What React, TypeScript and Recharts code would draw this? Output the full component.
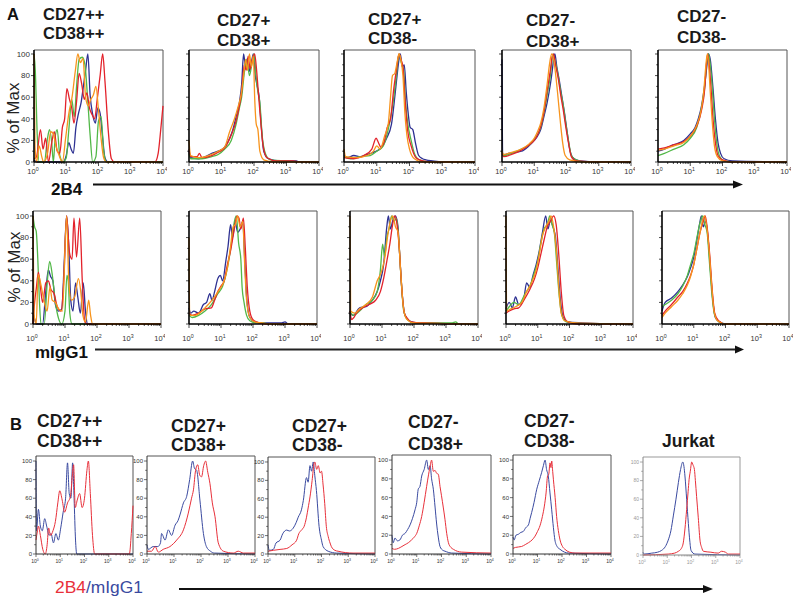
import React from 'react';
import { LineChart, Line, XAxis, YAxis, ReferenceLine } from 'recharts';

type Pt = [number, number];

// ---------- Row A1 : 2B4 (x = log10 intensity, y = % of max) ----------
const a1p1Blue: Pt[] = [[0,2],[0.1,0],[0.9,0],[1.0,6],[1.08,18],[1.15,12],[1.22,8],[1.3,32],[1.38,45],[1.46,55],[1.54,72],[1.6,85],[1.67,100],[1.74,62],[1.82,44],[1.9,36],[1.98,50],[2.05,45],[2.12,25],[2.2,4],[2.3,0],[4,0]];
const a1p1Green: Pt[] = [[0,100],[0.04,85],[0.1,25],[0.16,0],[0.32,0],[0.42,22],[0.48,30],[0.55,18],[0.6,0],[0.66,24],[0.72,30],[0.8,6],[0.9,0],[1.0,4],[1.08,30],[1.17,58],[1.25,42],[1.32,70],[1.4,95],[1.5,97],[1.58,90],[1.66,60],[1.74,25],[1.82,0],[1.92,5],[2.0,38],[2.08,42],[2.16,10],[2.25,0],[4,0]];
const a1p1Red: Pt[] = [[0,3],[0.08,5],[0.2,30],[0.28,12],[0.36,22],[0.45,0],[0.55,18],[0.63,28],[0.72,10],[0.8,8],[0.88,32],[0.95,40],[1.02,68],[1.1,58],[1.17,50],[1.24,36],[1.32,56],[1.4,82],[1.48,72],[1.56,58],[1.64,64],[1.72,50],[1.8,44],[1.88,40],[1.96,58],[2.05,80],[2.13,100],[2.2,75],[2.3,30],[2.4,3],[2.5,0],[3.75,0],[3.85,8],[3.93,30],[4,52]];
const a1p1Orange: Pt[] = [[0,100],[0.03,15],[0.08,0],[0.16,15],[0.24,5],[0.3,0],[0.42,8],[0.52,28],[0.6,26],[0.68,15],[0.78,6],[0.88,0],[0.98,22],[1.08,45],[1.18,60],[1.28,84],[1.36,100],[1.44,92],[1.52,96],[1.6,60],[1.68,52],[1.76,58],[1.84,62],[1.92,70],[2.0,48],[2.08,22],[2.16,4],[2.25,0],[4,0]];

const a1p2Blue: Pt[] = [[0,10],[0.05,4],[0.3,3],[0.5,5],[0.7,8],[0.9,10],[1.1,14],[1.25,22],[1.35,30],[1.45,42],[1.55,55],[1.62,72],[1.68,100],[1.74,88],[1.8,96],[1.86,84],[1.92,92],[1.98,100],[2.04,80],[2.1,70],[2.16,60],[2.22,35],[2.3,10],[2.45,3],[2.8,1],[3.3,1],[3.4,0],[4,0]];
const a1p2Green: Pt[] = [[0,8],[0.05,3],[0.4,3],[0.7,5],[0.9,7],[1.1,12],[1.3,20],[1.45,35],[1.55,50],[1.62,60],[1.7,82],[1.78,95],[1.86,80],[1.94,92],[2.0,100],[2.06,80],[2.12,65],[2.18,55],[2.25,25],[2.35,8],[2.5,2],[3.0,1],[3.5,0],[4,0]];
const a1p2Red: Pt[] = [[0,12],[0.05,5],[0.25,5],[0.32,8],[0.4,4],[0.7,6],[0.9,9],[1.1,13],[1.3,25],[1.45,38],[1.55,52],[1.62,65],[1.7,90],[1.76,85],[1.82,98],[1.88,86],[1.95,95],[2.02,100],[2.08,85],[2.14,62],[2.2,40],[2.28,15],[2.4,4],[2.7,1],[3.2,1],[3.4,0],[4,0]];
const a1p2Orange: Pt[] = [[0,20],[0.05,6],[0.3,4],[0.6,6],[0.9,10],[1.1,14],[1.25,28],[1.4,40],[1.5,50],[1.6,62],[1.68,80],[1.74,95],[1.8,85],[1.86,100],[1.92,88],[1.98,98],[2.02,60],[2.07,35],[2.12,30],[2.18,10],[2.3,2],[2.6,0],[4,0]];

const a1p3Blue: Pt[] = [[0,6],[0.1,4],[0.3,6],[0.5,5],[0.7,7],[0.9,9],[1.1,12],[1.3,22],[1.45,35],[1.55,60],[1.62,80],[1.68,95],[1.72,100],[1.78,88],[1.84,90],[1.9,65],[1.96,45],[2.02,32],[2.1,30],[2.18,18],[2.28,6],[2.4,3],[2.5,2],[2.7,1],[3.0,0],[4,0]];
const a1p3Green: Pt[] = [[0,5],[0.2,3],[0.5,5],[0.8,6],[1.0,10],[1.2,15],[1.35,30],[1.5,55],[1.6,80],[1.68,100],[1.75,92],[1.82,85],[1.88,55],[1.95,35],[2.05,20],[2.15,8],[2.3,2],[2.6,0],[4,0]];
const a1p3Red: Pt[] = [[0,4],[0.3,3],[0.6,6],[0.85,12],[0.98,22],[1.05,18],[1.12,14],[1.22,18],[1.32,32],[1.42,40],[1.52,68],[1.6,85],[1.68,100],[1.74,95],[1.8,88],[1.86,60],[1.94,30],[2.05,15],[2.2,4],[2.4,1],[2.7,0],[4,0]];
const a1p3Orange: Pt[] = [[0,12],[0.05,5],[0.4,4],[0.7,6],[0.9,10],[1.0,15],[1.1,12],[1.25,25],[1.35,35],[1.42,60],[1.48,80],[1.55,82],[1.62,92],[1.68,100],[1.74,94],[1.8,80],[1.86,45],[1.92,25],[2.0,12],[2.15,3],[2.4,0],[4,0]];

const a1p4Blue: Pt[] = [[0,95],[0.02,6],[0.2,8],[0.4,9],[0.6,10],[0.8,14],[1.0,20],[1.1,24],[1.2,30],[1.3,42],[1.4,55],[1.5,72],[1.56,85],[1.6,95],[1.64,100],[1.7,88],[1.78,75],[1.86,60],[1.94,45],[2.02,28],[2.1,12],[2.2,4],[2.4,1],[3.0,0],[4,0]];
const a1p4Green: Pt[] = [[0,10],[0.05,6],[0.3,8],[0.6,12],[0.85,16],[1.0,21],[1.2,32],[1.3,45],[1.4,62],[1.5,80],[1.58,100],[1.66,92],[1.74,80],[1.82,65],[1.9,52],[1.98,35],[2.06,20],[2.15,6],[2.3,2],[2.6,0],[4,0]];
const a1p4Red: Pt[] = [[0,8],[0.05,5],[0.3,7],[0.6,11],[0.85,16],[1.0,20],[1.1,25],[1.2,33],[1.3,46],[1.4,66],[1.5,85],[1.56,98],[1.6,100],[1.66,90],[1.74,78],[1.82,62],[1.9,48],[1.98,32],[2.06,18],[2.15,5],[2.3,1],[3.0,0],[4,0]];
const a1p4Orange: Pt[] = [[0,10],[0.05,7],[0.3,9],[0.6,12],[0.85,17],[1.0,22],[1.1,28],[1.2,36],[1.3,50],[1.4,72],[1.48,92],[1.54,100],[1.6,95],[1.66,82],[1.72,65],[1.8,40],[1.88,18],[1.96,6],[2.1,2],[2.5,0],[4,0]];

const a1p5Blue: Pt[] = [[0,10],[0.2,12],[0.4,15],[0.6,17],[0.8,20],[1.0,26],[1.15,32],[1.25,40],[1.35,52],[1.45,72],[1.52,90],[1.56,100],[1.62,95],[1.7,70],[1.78,40],[1.86,18],[1.94,8],[2.05,3],[2.3,1],[4,0]];
const a1p5Green: Pt[] = [[0,6],[0.2,8],[0.5,12],[0.8,16],[1.0,22],[1.2,32],[1.35,50],[1.45,70],[1.52,95],[1.57,100],[1.62,90],[1.68,70],[1.75,40],[1.82,18],[1.9,6],[2.05,1],[2.4,0],[4,0]];
const a1p5Red: Pt[] = [[0,12],[0.2,13],[0.5,16],[0.8,19],[1.0,24],[1.2,33],[1.35,48],[1.45,68],[1.5,90],[1.54,100],[1.58,92],[1.64,70],[1.7,42],[1.78,18],[1.86,6],[2.0,2],[2.3,0],[4,0]];
const a1p5Orange: Pt[] = [[0,11],[0.2,12],[0.5,15],[0.8,18],[1.0,24],[1.2,34],[1.35,50],[1.42,66],[1.48,88],[1.53,100],[1.57,90],[1.62,65],[1.68,38],[1.75,15],[1.84,5],[2.0,1],[2.3,0],[4,0]];

// ---------- Row A2 : mIgG1 ----------
const a2p1Blue: Pt[] = [[0,10],[0.05,5],[0.1,0],[0.3,0],[0.4,30],[0.48,50],[0.55,44],[0.62,40],[0.7,18],[0.8,12],[0.9,14],[0.98,60],[1.05,100],[1.12,70],[1.18,22],[1.25,12],[1.33,38],[1.4,25],[1.48,10],[1.57,38],[1.64,12],[1.7,0],[4,0]];
const a2p1Green: Pt[] = [[0,100],[0.05,90],[0.1,86],[0.15,60],[0.2,22],[0.25,0],[0.35,0],[0.45,40],[0.52,58],[0.6,46],[0.7,20],[0.8,5],[0.9,0],[1.0,12],[1.06,45],[1.1,40],[1.15,10],[1.22,0],[4,0]];
const a2p1Red: Pt[] = [[0,0],[0.05,20],[0.1,32],[0.17,48],[0.24,32],[0.3,20],[0.4,38],[0.48,40],[0.56,32],[0.66,28],[0.76,16],[0.88,12],[0.96,40],[1.05,100],[1.14,66],[1.22,60],[1.28,98],[1.36,62],[1.46,98],[1.54,40],[1.62,2],[1.7,0],[4,0]];
const a2p1Orange: Pt[] = [[0,100],[0.03,10],[0.1,0],[0.16,46],[0.25,36],[0.34,22],[0.44,12],[0.53,34],[0.6,22],[0.7,20],[0.8,14],[0.92,12],[1.05,100],[1.12,38],[1.2,22],[1.3,25],[1.42,42],[1.5,28],[1.56,8],[1.64,2],[1.74,22],[1.8,8],[1.86,0],[4,0]];

const a2p2Blue: Pt[] = [[0,15],[0.05,10],[0.15,12],[0.3,10],[0.45,18],[0.55,20],[0.65,28],[0.72,22],[0.8,30],[0.9,42],[0.98,45],[1.05,40],[1.15,58],[1.22,72],[1.3,92],[1.36,80],[1.44,95],[1.52,85],[1.6,88],[1.68,95],[1.74,60],[1.8,25],[1.9,6],[2.05,2],[2.3,1],[2.9,1],[3.0,2],[3.1,0],[4,0]];
const a2p2Green: Pt[] = [[0,8],[0.1,6],[0.3,8],[0.5,12],[0.7,18],[0.9,28],[1.05,35],[1.15,45],[1.25,60],[1.35,80],[1.42,95],[1.48,100],[1.55,75],[1.62,60],[1.66,34],[1.72,20],[1.8,8],[1.9,3],[2.1,1],[2.3,1],[2.5,0],[4,0]];
const a2p2Red: Pt[] = [[0,10],[0.1,8],[0.3,10],[0.5,14],[0.7,15],[0.8,22],[0.9,30],[1.0,35],[1.1,40],[1.2,55],[1.3,68],[1.4,85],[1.5,100],[1.56,98],[1.62,88],[1.7,98],[1.76,70],[1.82,35],[1.9,12],[2.0,4],[2.2,1],[2.4,0],[4,0]];
const a2p2Orange: Pt[] = [[0,80],[0.02,8],[0.2,8],[0.4,12],[0.6,18],[0.8,25],[0.95,32],[1.1,40],[1.2,52],[1.3,72],[1.38,90],[1.45,92],[1.52,100],[1.6,90],[1.68,95],[1.74,55],[1.8,22],[1.9,6],[2.05,2],[2.3,1],[2.5,0],[4,0]];

const a2p3Blue: Pt[] = [[0,10],[0.1,8],[0.3,15],[0.5,16],[0.7,22],[0.85,30],[0.95,40],[1.05,55],[1.15,90],[1.2,100],[1.26,88],[1.34,96],[1.42,100],[1.5,90],[1.56,60],[1.64,25],[1.72,8],[1.85,3],[2.1,1],[2.5,1],[3.0,0],[4,0]];
const a2p3Green: Pt[] = [[0,12],[0.1,8],[0.3,12],[0.5,18],[0.7,22],[0.85,30],[0.95,50],[1.02,74],[1.08,62],[1.15,80],[1.22,88],[1.3,100],[1.38,95],[1.45,98],[1.52,80],[1.6,40],[1.68,12],[1.8,4],[2.0,1],[3.2,1],[3.3,2],[3.4,0],[4,0]];
const a2p3Red: Pt[] = [[0,12],[0.05,4],[0.12,6],[0.2,10],[0.4,15],[0.6,18],[0.8,22],[0.95,30],[1.05,42],[1.15,58],[1.25,75],[1.32,90],[1.4,100],[1.47,92],[1.54,70],[1.62,32],[1.7,10],[1.8,5],[1.9,2],[2.3,1],[4,0]];
const a2p3Orange: Pt[] = [[0,100],[0.02,12],[0.15,10],[0.3,14],[0.5,18],[0.7,25],[0.85,40],[0.98,48],[1.08,60],[1.18,82],[1.26,95],[1.34,100],[1.42,90],[1.5,85],[1.58,50],[1.66,18],[1.76,5],[2.0,1],[4,0]];

const a2p4Blue: Pt[] = [[0,14],[0.1,20],[0.2,15],[0.3,25],[0.4,18],[0.55,22],[0.65,38],[0.75,34],[0.85,45],[0.95,55],[1.05,68],[1.15,85],[1.25,100],[1.32,88],[1.4,96],[1.48,90],[1.56,80],[1.64,50],[1.72,20],[1.8,6],[1.95,2],[2.4,1],[3.5,0],[4,0]];
const a2p4Green: Pt[] = [[0,12],[0.1,16],[0.25,20],[0.4,18],[0.6,28],[0.75,35],[0.9,48],[1.0,58],[1.1,75],[1.2,88],[1.3,92],[1.38,100],[1.45,92],[1.52,85],[1.6,55],[1.68,25],[1.76,8],[1.9,2],[2.5,0],[4,0]];
const a2p4Red: Pt[] = [[0,10],[0.1,12],[0.25,14],[0.4,15],[0.6,24],[0.75,32],[0.9,42],[1.0,52],[1.1,65],[1.2,78],[1.3,90],[1.4,95],[1.5,100],[1.58,92],[1.66,65],[1.74,30],[1.82,8],[1.95,2],[2.3,0],[4,0]];
const a2p4Orange: Pt[] = [[0,100],[0.02,12],[0.15,14],[0.3,16],[0.5,20],[0.65,30],[0.8,38],[0.95,50],[1.05,65],[1.15,82],[1.25,90],[1.35,95],[1.42,100],[1.5,90],[1.58,70],[1.66,35],[1.74,10],[1.85,3],[2.2,1],[4,0]];

const a2p5Blue: Pt[] = [[0,12],[0.1,20],[0.3,24],[0.5,30],[0.65,36],[0.8,44],[0.9,52],[1.0,62],[1.1,78],[1.18,92],[1.24,100],[1.3,90],[1.38,95],[1.45,80],[1.52,52],[1.6,22],[1.68,6],[1.8,2],[2.0,0],[4,0]];
const a2p5Green: Pt[] = [[0,16],[0.1,18],[0.3,22],[0.5,28],[0.65,35],[0.8,45],[0.9,55],[1.0,65],[1.1,80],[1.2,94],[1.28,100],[1.35,92],[1.42,85],[1.5,55],[1.58,25],[1.66,8],[1.8,2],[2.0,0],[4,0]];
const a2p5Red: Pt[] = [[0,8],[0.1,12],[0.3,18],[0.5,25],[0.65,30],[0.8,38],[0.9,45],[1.0,55],[1.1,70],[1.2,85],[1.3,95],[1.36,100],[1.42,90],[1.5,65],[1.58,32],[1.66,10],[1.78,3],[2.0,0],[4,0]];
const a2p5Orange: Pt[] = [[0,6],[0.1,10],[0.3,16],[0.5,22],[0.65,28],[0.8,36],[0.9,44],[1.0,55],[1.1,70],[1.2,85],[1.28,96],[1.34,100],[1.4,92],[1.48,70],[1.56,38],[1.64,12],[1.75,3],[2.0,0],[4,0]];

// ---------- Row B : 2B4 (red) vs mIgG1 (blue) ----------
const b1Blue: Pt[] = [[0,100],[0.02,25],[0.1,48],[0.18,30],[0.26,25],[0.36,38],[0.44,30],[0.54,20],[0.62,22],[0.72,12],[0.82,22],[0.92,15],[1.02,28],[1.12,45],[1.22,60],[1.3,98],[1.37,65],[1.44,60],[1.51,98],[1.57,60],[1.63,15],[1.68,0],[4,0]];
const b1Red: Pt[] = [[0,15],[0.06,25],[0.1,30],[0.18,20],[0.28,5],[0.38,0],[0.46,10],[0.52,28],[0.6,20],[0.7,25],[0.8,35],[0.9,55],[0.98,68],[1.08,58],[1.18,45],[1.3,55],[1.42,62],[1.5,85],[1.55,96],[1.62,50],[1.7,58],[1.8,65],[1.9,50],[2.0,60],[2.1,90],[2.16,100],[2.24,65],[2.33,20],[2.42,0],[3.85,0],[3.93,22],[4,52]];
const b2Blue: Pt[] = [[0,10],[0.05,5],[0.23,8],[0.4,8],[0.5,12],[0.54,22],[0.67,15],[0.79,26],[0.91,20],[1.04,31],[1.15,36],[1.22,42],[1.35,55],[1.47,62],[1.58,80],[1.69,100],[1.76,92],[1.84,90],[1.96,58],[2.09,22],[2.2,8],[2.35,3],[2.5,1],[4,0]];
const b2Red: Pt[] = [[0,3],[0.17,3],[0.3,8],[0.42,2],[0.6,5],[0.85,8],[1.1,15],[1.35,26],[1.53,44],[1.65,60],[1.72,69],[1.8,90],[1.88,96],[1.95,85],[2.02,83],[2.1,95],[2.17,100],[2.25,88],[2.33,76],[2.42,55],[2.52,40],[2.64,12],[2.83,3],[3.2,1],[3.38,3],[3.57,1],[4,1]];
const b3Blue: Pt[] = [[0,10],[0.05,4],[0.2,5],[0.3,12],[0.45,15],[0.55,22],[0.7,26],[0.8,25],[0.94,28],[1.05,34],[1.13,40],[1.25,48],[1.32,58],[1.44,83],[1.5,78],[1.57,96],[1.63,90],[1.69,100],[1.75,85],[1.81,69],[1.91,30],[2.0,15],[2.06,8],[2.25,3],[2.56,1],[4,0]];
const b3Red: Pt[] = [[0,3],[0.2,4],[0.45,5],[0.7,6],[0.9,10],[1.07,15],[1.15,22],[1.25,26],[1.35,30],[1.44,40],[1.5,50],[1.57,62],[1.65,80],[1.72,98],[1.75,100],[1.82,92],[1.88,96],[1.95,88],[2.0,90],[2.06,75],[2.12,55],[2.18,30],[2.25,19],[2.32,12],[2.37,8],[2.5,4],[2.62,3],[3.18,1],[4,1]];
const b4Blue: Pt[] = [[0,20],[0.05,12],[0.12,17],[0.22,14],[0.32,15],[0.42,20],[0.53,22],[0.63,26],[0.73,31],[0.83,38],[0.93,47],[1.0,55],[1.06,69],[1.13,72],[1.2,83],[1.3,90],[1.4,100],[1.47,90],[1.54,94],[1.6,80],[1.67,69],[1.74,50],[1.8,33],[1.87,18],[1.94,8],[2.05,4],[2.14,3],[2.41,1],[4,0]];
const b4Red: Pt[] = [[0,6],[0.1,5],[0.26,6],[0.4,8],[0.53,10],[0.66,12],[0.79,15],[0.9,18],[1.0,22],[1.1,30],[1.2,40],[1.3,55],[1.4,72],[1.48,85],[1.55,95],[1.6,100],[1.67,88],[1.74,89],[1.8,86],[1.87,85],[1.94,72],[2.0,62],[2.07,50],[2.14,37],[2.21,22],[2.28,12],[2.38,7],[2.48,5],[2.81,2],[4,1]];
const b5Blue: Pt[] = [[0,18],[0.05,15],[0.12,20],[0.22,21],[0.32,23],[0.42,24],[0.52,28],[0.63,31],[0.7,38],[0.76,44],[0.86,55],[0.97,69],[1.07,78],[1.17,87],[1.24,94],[1.31,100],[1.37,90],[1.44,83],[1.51,65],[1.58,47],[1.65,28],[1.71,15],[1.8,8],[1.92,5],[2.1,2],[2.26,1],[4,0]];
const b5Red: Pt[] = [[0,6],[0.1,7],[0.35,8],[0.5,10],[0.63,12],[0.78,15],[0.9,19],[1.0,24],[1.1,30],[1.2,40],[1.28,51],[1.35,65],[1.41,83],[1.46,85],[1.51,97],[1.55,92],[1.58,99],[1.62,88],[1.65,79],[1.72,60],[1.78,40],[1.85,25],[1.92,15],[2.02,8],[2.12,5],[2.3,2],[2.53,1],[4,1]];
const b6Blue: Pt[] = [[0,3],[0.05,1],[0.36,2],[0.6,3],[0.77,5],[0.92,9],[1.04,16],[1.15,26],[1.25,42],[1.36,60],[1.46,78],[1.55,92],[1.64,100],[1.69,95],[1.73,85],[1.8,60],[1.87,34],[1.93,15],[1.98,5],[2.14,1],[4,0]];
const b6Red: Pt[] = [[0,0],[1.04,1],[1.3,2],[1.46,4],[1.58,7],[1.66,13],[1.73,28],[1.8,49],[1.86,68],[1.9,81],[1.95,90],[2.01,100],[2.06,97],[2.12,92],[2.16,80],[2.21,63],[2.28,40],[2.35,16],[2.42,8],[2.49,4],[2.8,3],[3.1,2],[3.24,4],[3.4,3],[3.52,1],[4,1]];

// ---------- labels ----------
const rowATitles: [string, string][] = [['CD27++','CD38++'],['CD27+','CD38+'],['CD27+','CD38-'],['CD27-','CD38+'],['CD27-','CD38-']];
const rowBTitles: string[][] = [['CD27++','CD38++'],['CD27+','CD38+'],['CD27+','CD38-'],['CD27-','CD38+'],['CD27-','CD38-'],['Jurkat']];
const yTickValues = [0,10,20,30,40,50,60,70,80,90,100];
const decades = [0,1,2,3];
const xTickValues: number[] = [...decades.flatMap(d => [1,2,3,4,5,6,7,8,9].map(k => d + Math.log10(k))), 4];

const BLUE = '#2e3192', GREEN = '#52b848', RED = '#e3222b', ORANGE = '#f7941d';
const BBLUE = '#3a4aa0', BRED = '#e8303a';
const FONT = '"Liberation Sans", Arial, sans-serif';

type Series = { pts: Pt[]; color: string };
type Box = [number, number, number, number];

const ML = 34, MT = 4, MR = 4, XH = 26;

type PanelProps = {
  box: Box; yMax: number; series: Series[]; variant: 'A' | 'B' | 'J';
  showY: boolean; xLabelDy: number; lw: number;
};

function Panel({ box, yMax, series, variant, showY, xLabelDy, lw }: PanelProps) {
  const [x0, y0, x1, y1] = box;
  const w = x1 - x0, h = y1 - y0;
  const W = ML + w + MR, H = MT + h + XH;
  const axisY = MT + h;
  const mainStroke = variant === 'A' ? '#000' : variant === 'B' ? '#333' : '#888';
  const mainW = variant === 'A' ? 1.6 : 1;
  const frameStroke = variant === 'A' ? '#555' : variant === 'B' ? '#555' : '#999';
  const yFs = variant === 'A' ? 8 : variant === 'B' ? 6 : 5;
  const xFs = variant === 'A' ? 7.5 : 5;
  const labelColor = variant === 'J' ? '#999' : '#333';

  const XTick = (p: any) => {
    const x = p.x;
    const v = p.payload.value;
    const major = Number.isInteger(v);
    const len = major ? (variant === 'A' ? 4 : 3) : (variant === 'A' ? 2 : 1.5);
    return (
      <g>
        <line x1={x} x2={x} y1={axisY} y2={axisY + len} stroke={mainStroke} strokeWidth={0.7} />
        {major && (
          <text x={x - 1} y={axisY + xLabelDy} fontSize={xFs} fill={labelColor} textAnchor="middle" fontFamily={FONT}>
            10<tspan dy={-xFs * 0.45} fontSize={xFs * 0.7}>{v}</tspan>
          </text>
        )}
      </g>
    );
  };
  const YTick = (p: any) => {
    const y = p.y;
    const v = p.payload.value;
    const major = v % 20 === 0;
    const len = major ? 3 : 1.8;
    return (
      <g>
        <line x1={ML - len} x2={ML} y1={y} y2={y} stroke={mainStroke} strokeWidth={0.7} />
        {showY && major && (
          <text x={ML - 4} y={y} dy="0.35em" fontSize={yFs} fill={labelColor} textAnchor="end" fontFamily={FONT}>{v}</text>
        )}
      </g>
    );
  };

  return (
    <div style={{ position: 'absolute', left: x0 - ML, top: y0 - MT }}>
      <LineChart width={W} height={H} margin={{ top: MT, right: MR, left: 0, bottom: 0 }}>
        <XAxis dataKey="x" type="number" domain={[0, 4]} ticks={xTickValues} interval={0}
          height={XH} tick={XTick} tickLine={false} axisLine={{ stroke: mainStroke, strokeWidth: mainW }} />
        <YAxis type="number" domain={[0, yMax]} ticks={yTickValues} interval={0} width={ML}
          tick={YTick} tickLine={false} axisLine={{ stroke: mainStroke, strokeWidth: mainW }} />
        <ReferenceLine y={yMax} stroke={frameStroke} strokeWidth={1} />
        <ReferenceLine x={4} stroke={frameStroke} strokeWidth={1} />
        {series.map((s, i) => (
          <Line key={i} data={s.pts.map(([x, y]) => ({ x, y }))} dataKey="y" type="monotone"
            stroke={s.color} strokeWidth={lw} dot={false} activeDot={false} isAnimationActive={false} />
        ))}
      </LineChart>
    </div>
  );
}

const rowA1: { box: Box; series: Series[] }[] = [
  { box: [34, 50, 163, 162], series: [{ pts: a1p1Blue, color: BLUE }, { pts: a1p1Green, color: GREEN }, { pts: a1p1Red, color: RED }, { pts: a1p1Orange, color: ORANGE }] },
  { box: [189, 50, 319, 162], series: [{ pts: a1p2Blue, color: BLUE }, { pts: a1p2Green, color: GREEN }, { pts: a1p2Red, color: RED }, { pts: a1p2Orange, color: ORANGE }] },
  { box: [344, 50, 475, 162], series: [{ pts: a1p3Blue, color: BLUE }, { pts: a1p3Green, color: GREEN }, { pts: a1p3Red, color: RED }, { pts: a1p3Orange, color: ORANGE }] },
  { box: [502, 50, 631, 162], series: [{ pts: a1p4Blue, color: BLUE }, { pts: a1p4Green, color: GREEN }, { pts: a1p4Red, color: RED }, { pts: a1p4Orange, color: ORANGE }] },
  { box: [658, 50, 787, 162], series: [{ pts: a1p5Blue, color: BLUE }, { pts: a1p5Green, color: GREEN }, { pts: a1p5Red, color: RED }, { pts: a1p5Orange, color: ORANGE }] },
];
const rowA2: { box: Box; series: Series[] }[] = [
  { box: [33, 211, 161, 324], series: [{ pts: a2p1Blue, color: BLUE }, { pts: a2p1Green, color: GREEN }, { pts: a2p1Red, color: RED }, { pts: a2p1Orange, color: ORANGE }] },
  { box: [189, 211, 317, 324], series: [{ pts: a2p2Blue, color: BLUE }, { pts: a2p2Green, color: GREEN }, { pts: a2p2Red, color: RED }, { pts: a2p2Orange, color: ORANGE }] },
  { box: [350, 211, 478, 324], series: [{ pts: a2p3Blue, color: BLUE }, { pts: a2p3Green, color: GREEN }, { pts: a2p3Red, color: RED }, { pts: a2p3Orange, color: ORANGE }] },
  { box: [506, 211, 633, 324], series: [{ pts: a2p4Blue, color: BLUE }, { pts: a2p4Green, color: GREEN }, { pts: a2p4Red, color: RED }, { pts: a2p4Orange, color: ORANGE }] },
  { box: [662, 211, 789, 324], series: [{ pts: a2p5Blue, color: BLUE }, { pts: a2p5Green, color: GREEN }, { pts: a2p5Red, color: RED }, { pts: a2p5Orange, color: ORANGE }] },
];
const rowB: { box: Box; series: Series[] }[] = [
  { box: [36, 456, 133, 554], series: [{ pts: b1Blue, color: BBLUE }, { pts: b1Red, color: BRED }] },
  { box: [147, 456, 255, 554], series: [{ pts: b2Blue, color: BBLUE }, { pts: b2Red, color: BRED }] },
  { box: [268, 457, 375, 554], series: [{ pts: b3Blue, color: BBLUE }, { pts: b3Red, color: BRED }] },
  { box: [392, 455, 491, 554], series: [{ pts: b4Blue, color: BBLUE }, { pts: b4Red, color: BRED }] },
  { box: [513, 455, 611, 554], series: [{ pts: b5Blue, color: BBLUE }, { pts: b5Red, color: BRED }] },
  { box: [643, 457, 740, 555], series: [{ pts: b6Blue, color: BBLUE }, { pts: b6Red, color: BRED }] },
];

const titleA: { x: number; b1: number; b2: number }[] = [
  { x: 43, b1: 20, b2: 38.5 }, { x: 217, b1: 26, b2: 46 }, { x: 368, b1: 25, b2: 44 },
  { x: 526, b1: 26, b2: 47 }, { x: 677, b1: 22, b2: 43 },
];
const titleB: { x: number; b1: number; b2: number }[] = [
  { x: 37, b1: 427, b2: 447 }, { x: 171, b1: 432, b2: 451 }, { x: 292, b1: 432, b2: 451 },
  { x: 408, b1: 428, b2: 450 }, { x: 524, b1: 427, b2: 447 }, { x: 662, b1: 447, b2: 0 },
];

export default function App() {
  return (
    <div style={{ position: 'absolute', left: 0, top: 0, width: 800, height: 604, background: '#fff', overflow: 'hidden' }}>
      {rowA1.map((p, i) => (
        <Panel key={'a1' + i} box={p.box} yMax={103.7} series={p.series} variant="A" showY={i === 0} xLabelDy={12} lw={1.3} />
      ))}
      {rowA2.map((p, i) => (
        <Panel key={'a2' + i} box={p.box} yMax={104.6} series={p.series} variant="A" showY={i === 0} xLabelDy={17} lw={1.3} />
      ))}
      {rowB.map((p, i) => (
        <Panel key={'b' + i} box={p.box} yMax={105.4} series={p.series} variant={i === 5 ? 'J' : 'B'} showY={true} xLabelDy={9} lw={1} />
      ))}
      <svg width={800} height={604} style={{ position: 'absolute', left: 0, top: 0, pointerEvents: 'none' }} fontFamily={FONT}>
        <text x={7} y={20} fontSize={16.5} fontWeight="bold" fill="#111">A</text>
        <text x={10} y={430} fontSize={16.5} fontWeight="bold" fill="#111">B</text>
        {titleA.map((t, i) => (
          <g key={'ta' + i}>
            <text x={t.x} y={t.b1} fontSize={i === 0 ? 16.5 : 17} fontWeight="bold" fill="#1a1a1a">{rowATitles[i][0]}</text>
            <text x={t.x} y={t.b2} fontSize={i === 0 ? 16.5 : 17} fontWeight="bold" fill="#1a1a1a">{rowATitles[i][1]}</text>
          </g>
        ))}
        {titleB.map((t, i) => (
          <g key={'tb' + i}>
            <text x={t.x} y={t.b1} fontSize={17.5} fontWeight="bold" fill="#1a1a1a">{rowBTitles[i][0]}</text>
            {rowBTitles[i][1] && <text x={t.x} y={t.b2} fontSize={17.5} fontWeight="bold" fill="#1a1a1a">{rowBTitles[i][1]}</text>}
          </g>
        ))}
        <text x={19} y={118} fontSize={17} fill="#222" textAnchor="middle" transform="rotate(-90 19 118)">% of Max</text>
        <text x={20} y={267} fontSize={17} fill="#222" textAnchor="middle" transform="rotate(-90 20 267)">% of Max</text>
        <text x={51} y={195} fontSize={17} fontWeight="bold" fill="#111">2B4</text>
        <text x={35} y={358} fontSize={17} fontWeight="bold" fill="#111">mIgG1</text>
        <text x={55} y={593} fontSize={17.4} fill={BRED}>2B4<tspan fill={BBLUE}>/mIgG1</tspan></text>
        <line x1={93} x2={735} y1={184.5} y2={184.5} stroke="#111" strokeWidth={2} />
        <polygon points="733,180.5 743,184.5 733,188.5" fill="#111" />
        <line x1={95} x2={736} y1={349.5} y2={349.5} stroke="#222" strokeWidth={2} />
        <polygon points="735,345.5 744,349.5 735,353.5" fill="#111" />
        <line x1={179} x2={704} y1={589} y2={589} stroke="#111" strokeWidth={2} />
        <polygon points="703,585 713,589 703,593" fill="#111" />
      </svg>
    </div>
  );
}
